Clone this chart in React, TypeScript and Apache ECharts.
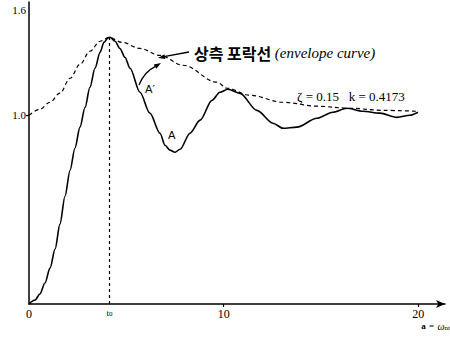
import React, { useEffect, useRef } from "react";
import * as echarts from "echarts";

// Step response (solid) — x = a = ω_n t, y = response
const respX = [0, 0.31, 0.56, 0.82, 1.08, 1.34, 1.59, 1.85, 2.11, 2.36, 2.62, 2.88, 3.13, 3.39, 3.65, 3.85, 4.06, 4.16, 4.42, 4.67, 4.93, 5.19, 5.7, 6.21, 6.73, 6.99, 7.24, 7.5, 7.76, 8.27, 8.79, 9.4, 9.81, 10.22, 10.84, 11.71, 12.53, 13.05, 13.76, 14.79, 15.61, 16.33, 17.15, 18.03, 18.9, 19.57, 19.98];
const respY = [0, 0.021, 0.053, 0.111, 0.19, 0.291, 0.423, 0.571, 0.709, 0.825, 0.937, 1.042, 1.148, 1.249, 1.333, 1.386, 1.41, 1.413, 1.392, 1.354, 1.307, 1.249, 1.122, 1.011, 0.905, 0.841, 0.815, 0.804, 0.82, 0.905, 0.974, 1.079, 1.122, 1.138, 1.116, 1.026, 0.958, 0.931, 0.937, 0.984, 1.016, 1.037, 1.021, 1.011, 0.989, 1.0, 1.016];

// Upper envelope (dashed)
const envX = [0, 0.56, 1.08, 1.59, 2.11, 2.62, 3.13, 3.65, 4.11, 4.78, 5.7, 6.73, 7.91, 9.66, 10.17, 11.35, 13.05, 14.79, 16.49, 18.18, 19.93];
const envY = [1.0, 1.032, 1.069, 1.117, 1.196, 1.27, 1.339, 1.392, 1.413, 1.386, 1.354, 1.317, 1.265, 1.175, 1.143, 1.106, 1.069, 1.048, 1.037, 1.026, 1.021];

const T0 = 4.13;
const PEAK = 1.413;
const xTickValues = [0, T0, 10, 20];
const xTickLabels = ["0", "t0", "10", "20"];
const xMarkValues = [10, 20];
const yTickValues = [1.0, 1.6];
const yTickLabels = ["1.0", "1.6"];
const yMarkValues = [1.0];

const SERIF = "'Liberation Serif', 'DejaVu Serif', serif";

export default function App() {
  const ref = useRef<HTMLDivElement>(null);
  useEffect(() => {
    if (!ref.current) return;
    const chart = echarts.init(ref.current, null, { renderer: "svg" });
    const resp = respX.map((x, i) => [x, respY[i]]);
    const env = envX.map((x, i) => [x, envY[i]]);
    chart.setOption({
      animation: false,
      backgroundColor: "#fff",
      grid: { left: 29, right: 5, top: 2, bottom: 35, containLabel: false, outerBoundsMode: "none" },
      xAxis: {
        type: "value",
        min: 0,
        max: 21.37,
        splitLine: { show: false },
        axisLine: { lineStyle: { color: "#000", width: 1.5 }, symbol: ["none", "arrow"], symbolSize: [6, 9] },
        axisTick: { show: true, customValues: xMarkValues, length: 3, lineStyle: { color: "#000", width: 1.2 } },
        axisLabel: {
          customValues: xTickValues,
          margin: 4,
          color: "#000",
          fontFamily: SERIF,
          fontSize: 12,
          formatter: (v: number) => {
            const i = xTickValues.findIndex((t) => Math.abs(t - v) < 1e-6);
            const s = i >= 0 ? xTickLabels[i] : "";
            if (s === "t0") return "{t|t}{s|0}";
            return s;
          },
          rich: {
            t: { fontSize: 9, fontFamily: SERIF, color: "#000" },
            s: { fontSize: 7, fontFamily: SERIF, color: "#000", verticalAlign: "bottom" },
          },
        },
        name: "{a|a} {e|=} {w|ω}{n|nt}",
        nameLocation: "end",
        nameGap: 5,
        nameTextStyle: {
          align: "right",
          verticalAlign: "top",
          padding: [16, 0, 0, 0],
          rich: {
            a: { fontSize: 9, fontWeight: "bold", fontFamily: SERIF, color: "#000" },
            e: { fontSize: 9, fontFamily: SERIF, color: "#000" },
            w: { fontSize: 10, fontStyle: "italic", fontFamily: SERIF, color: "#000" },
            n: { fontSize: 7, fontFamily: SERIF, color: "#000", padding: [4, 0, 0, 0] },
          },
        },
      },
      yAxis: {
        type: "value",
        min: 0,
        max: 1.6,
        splitLine: { show: false },
        axisLine: { lineStyle: { color: "#000", width: 1.5 } },
        axisTick: { show: true, customValues: yMarkValues, length: 3, lineStyle: { color: "#000", width: 1.2 } },
        axisLabel: {
          customValues: yTickValues,
          margin: 3,
          color: "#000",
          fontFamily: SERIF,
          fontSize: 11,
          formatter: (v: number) => {
            const i = yTickValues.findIndex((t) => Math.abs(t - v) < 1e-6);
            const s = i >= 0 ? yTickLabels[i] : "";
            if (s === "1.6") return "{hi|" + s + "}";
            return s;
          },
          rich: {
            hi: { fontSize: 11, fontFamily: SERIF, color: "#000", padding: [16, 0, 0, 0] },
          },
        },
      },
      series: [
        {
          type: "line",
          data: env,
          smooth: 0.35,
          smoothMonotone: "x",
          showSymbol: false,
          silent: true,
          lineStyle: { color: "#000", width: 1.2, type: [4, 3] },
        },
        {
          type: "line",
          data: resp,
          smooth: 0.3,
          smoothMonotone: "x",
          showSymbol: false,
          silent: true,
          lineStyle: { color: "#000", width: 1.6 },
          markLine: {
            silent: true,
            symbol: ["none", "none"],
            label: { show: false },
            lineStyle: { color: "#000", width: 1.2, type: [3, 3] },
            data: [[{ coord: [T0, 0] }, { coord: [T0, PEAK] }]],
          },
        },
      ],
      graphic: [
        {
          type: "text",
          x: 194,
          y: 53,
          style: {
            text: "{ko|상측 포락선 }{en|(envelope curve)}",
            verticalAlign: "middle",
            rich: {
              ko: { fontSize: 16, fontWeight: "bold", fontFamily: "'Noto Sans CJK KR', sans-serif", fill: "#000" },
              en: { fontSize: 15, fontStyle: "italic", fontFamily: SERIF, fill: "#000" },
            },
          },
        },
        {
          type: "line",
          shape: { x1: 189, y1: 52, x2: 164, y2: 56.6 },
          style: { stroke: "#000", lineWidth: 1.3 },
        },
        {
          type: "polygon",
          shape: { points: [[158, 58], [164.4, 54.2], [165.4, 59.1]] },
          style: { fill: "#000" },
        },
        {
          type: "bezierCurve",
          shape: { x1: 139, y1: 85, cpx1: 144, cpy1: 72, x2: 155, y2: 66.6 },
          style: { stroke: "#000", lineWidth: 1.3, fill: "none" },
        },
        {
          type: "polygon",
          shape: { points: [[161, 63], [156.3, 68.7], [153.7, 64.5]] },
          style: { fill: "#000" },
        },
        {
          type: "text",
          x: 145,
          y: 89,
          style: { text: "A′", fontSize: 11, fontFamily: "'DejaVu Sans', sans-serif", fill: "#000", verticalAlign: "middle" },
        },
        {
          type: "text",
          x: 168,
          y: 135,
          style: { text: "A", fontSize: 11, fontFamily: "'DejaVu Sans', sans-serif", fill: "#000", verticalAlign: "middle" },
        },
        {
          type: "text",
          x: 297,
          y: 96,
          style: { text: "ζ = 0.15   k = 0.4173", fontSize: 13, fontFamily: SERIF, fill: "#000", verticalAlign: "middle" },
        },
      ],
    });
    return () => chart.dispose();
  }, []);
  return <div ref={ref} style={{ position: "fixed", left: 0, top: 0, width: 450, height: 339 }} />;
}
